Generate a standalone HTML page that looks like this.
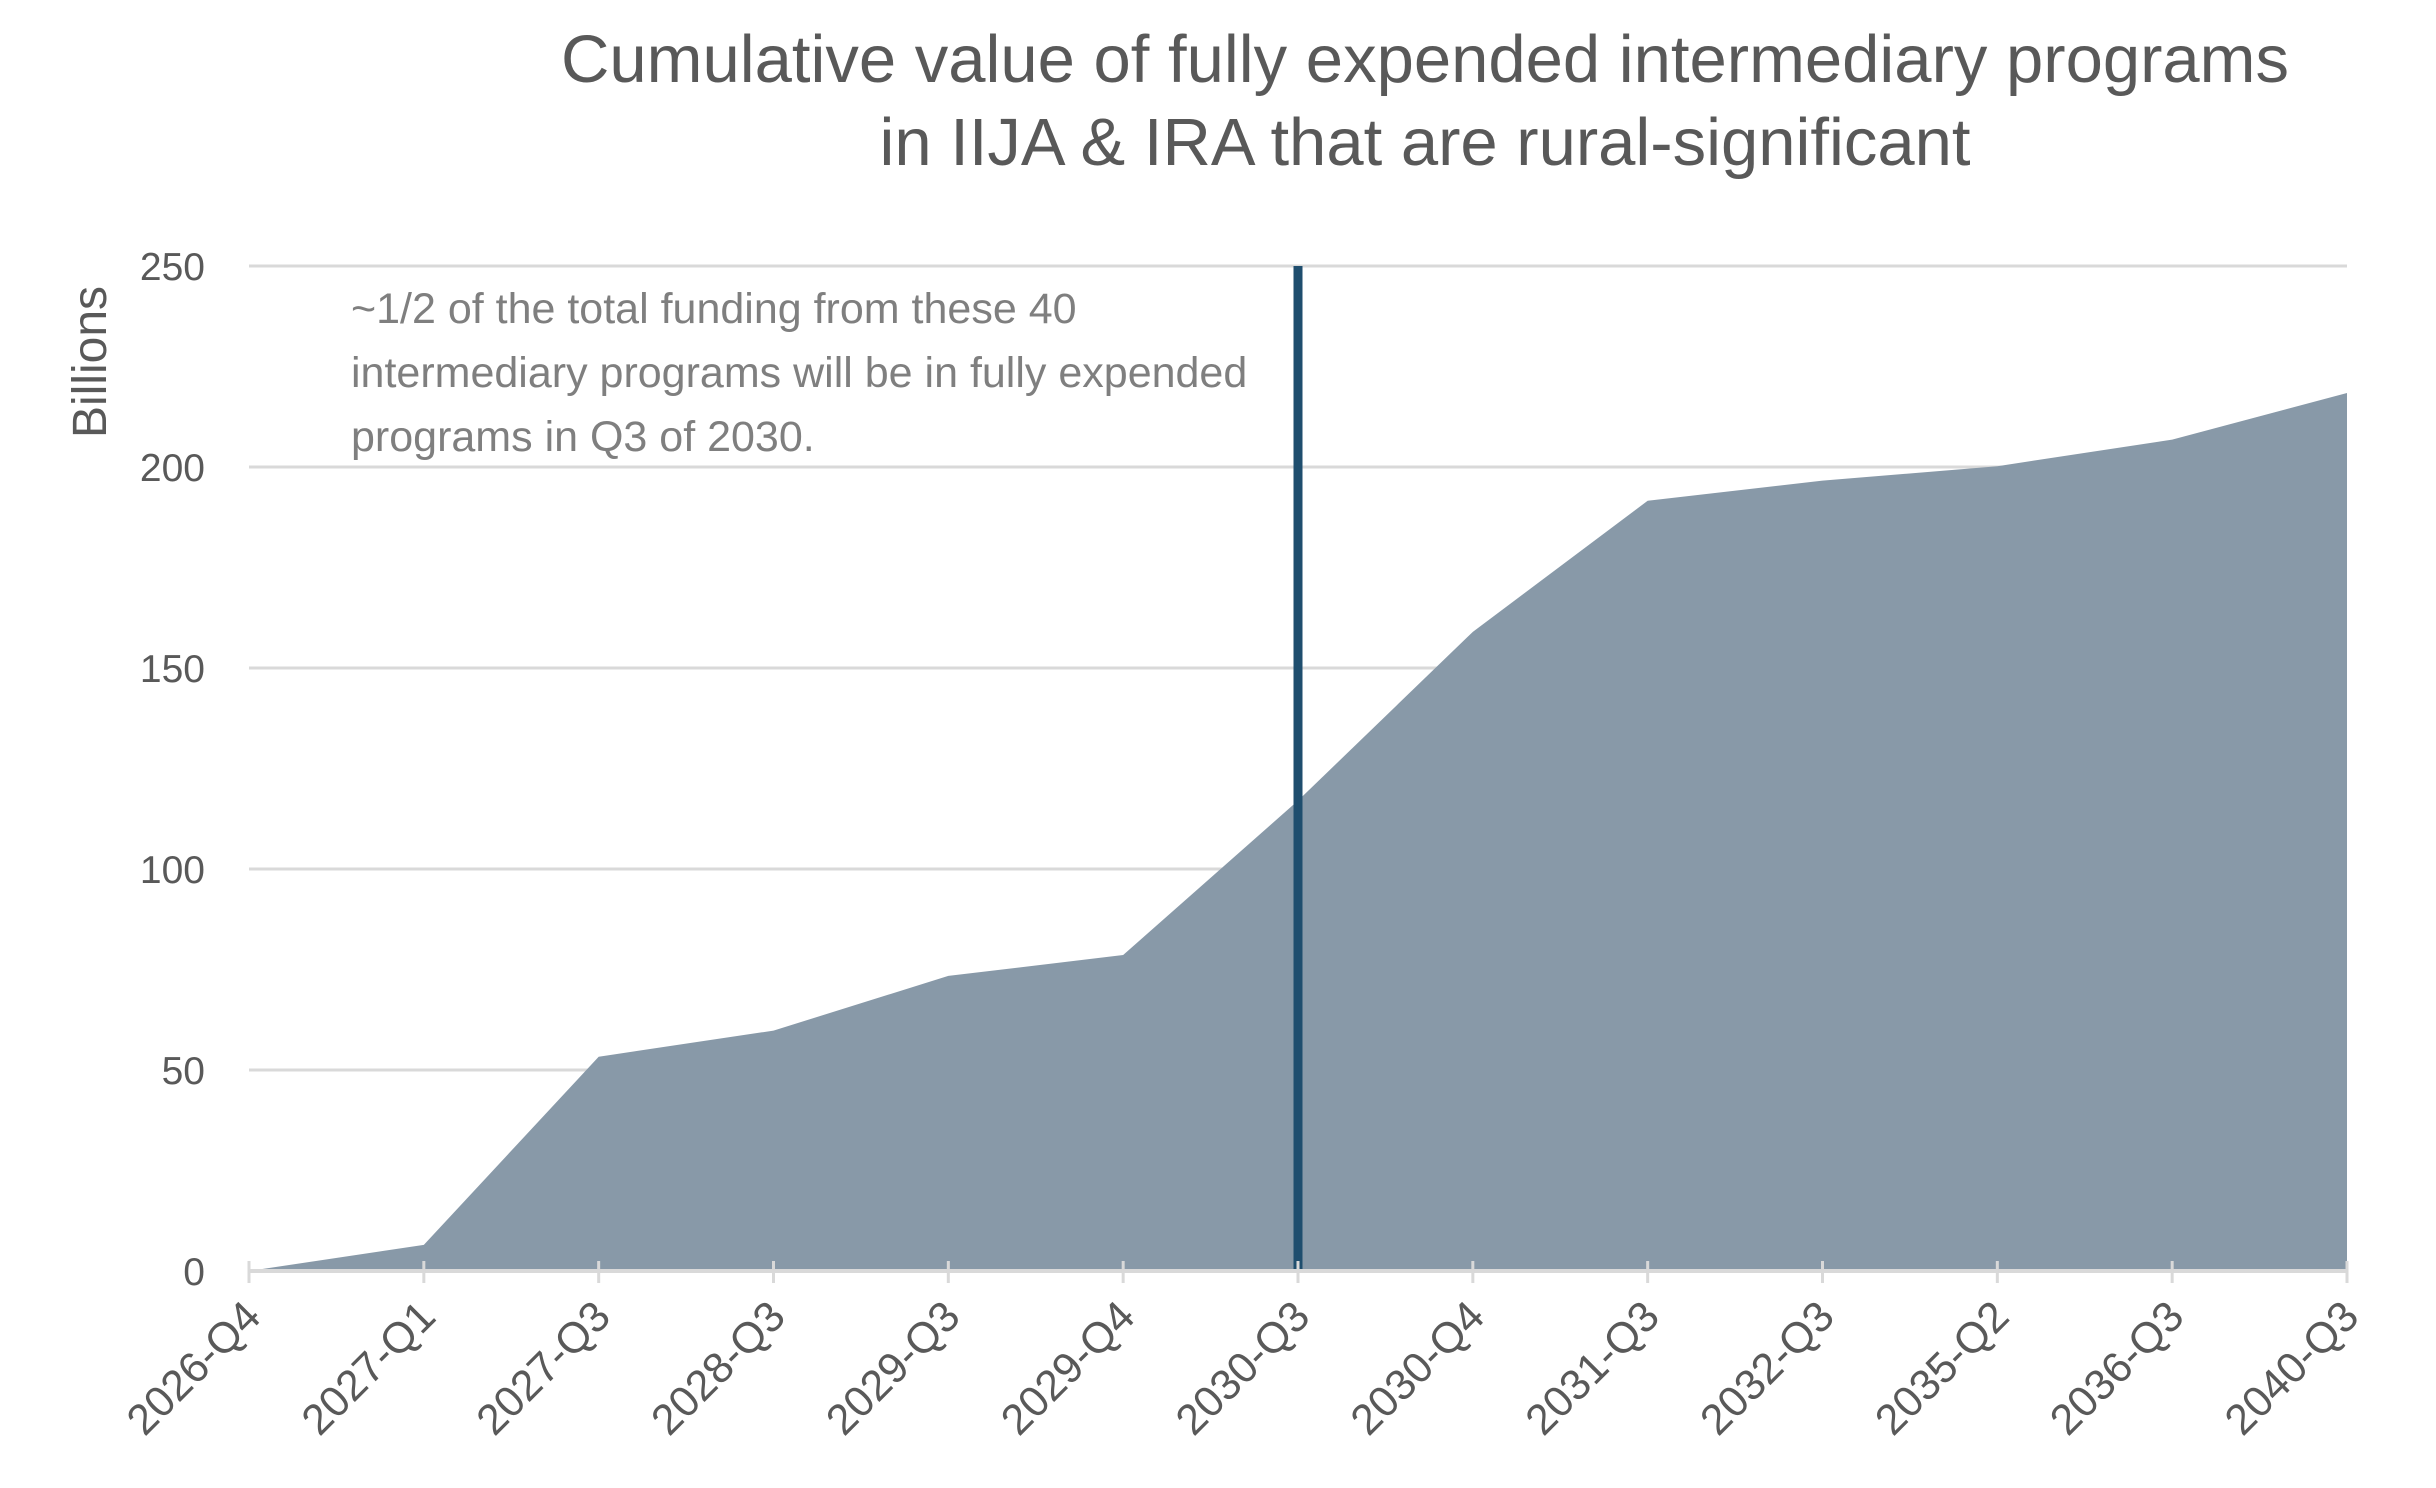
<!DOCTYPE html>
<html><head><meta charset="utf-8"><style>
html,body{margin:0;padding:0;background:#fff;}
svg{display:block;font-family:"Liberation Sans",sans-serif;}
</style></head><body>
<svg id="chart" width="2436" height="1488" viewBox="0 0 2436 1488" xmlns="http://www.w3.org/2000/svg">
<text x="1425" y="82" text-anchor="middle" font-size="67" fill="#595959">Cumulative value of fully expended intermediary programs</text>
<text x="1425" y="165" text-anchor="middle" font-size="67" fill="#595959">in IIJA &amp; IRA that are rural-significant</text>
<g id="grid"></g>
<g id="area"></g>
<g id="xaxis"></g>
<g id="yaxis"></g>
<text transform="translate(106,362) rotate(-90)" text-anchor="middle" font-size="48" fill="#595959">Billions</text>
<g font-size="43" fill="#7f7f7f">
<text x="351" y="323">~1/2 of the total funding from these 40</text>
<text x="351" y="387">intermediary programs will be in fully expended</text>
<text x="351" y="451">programs in Q3 of 2030.</text>
</g>
</svg>
<script>
const categories=["2026-Q4","2027-Q1","2027-Q3","2028-Q3","2029-Q3","2029-Q4","2030-Q3","2030-Q4","2031-Q3","2032-Q3","2035-Q2","2036-Q3","2040-Q3"];
const values=[0,6.5,53.3,59.8,73.4,78.6,117,159,191.6,196.6,200.2,206.8,218.4];
const yTicks=[0,50,100,150,200,250];
const markerCategory="2030-Q3";
const NS="http://www.w3.org/2000/svg";
const L=249,R=2347,T=266,B=1271,yMax=250;
function x(i){return L+(R-L)*i/(categories.length-1);}
function y(v){return B-(B-T)*v/yMax;}
function mk(tag,attrs,parent){const e=document.createElementNS(NS,tag);for(const k in attrs)e.setAttribute(k,attrs[k]);parent.appendChild(e);return e;}
const grid=document.getElementById('grid'),yaxis=document.getElementById('yaxis'),xaxis=document.getElementById('xaxis'),area=document.getElementById('area');
yTicks.forEach(t=>{
  if(t>0){const g=mk('line',{x1:L,x2:R,y1:y(t),y2:y(t),stroke:'#d9d9d9','stroke-width':3},grid);
  
  }
  const lb=mk('text',{x:205,y:y(t)+14,'text-anchor':'end','font-size':39,fill:'#595959'},yaxis);
  lb.textContent=t;
  
  
});
let d='M'+x(0)+','+y(0);
values.forEach((v,i)=>{d+=' L'+x(i)+','+y(v);});
d+=' L'+x(values.length-1)+','+B+' L'+x(0)+','+B+' Z';
const p=mk('path',{d:d,fill:'#8899a8'},area);


const ax=mk('line',{x1:L,x2:R,y1:B,y2:B,stroke:'#d9d9d9','stroke-width':4},xaxis);


categories.forEach((c,i)=>{
  const tk=mk('line',{x1:x(i),x2:x(i),y1:B-10,y2:B+12,stroke:'#d9d9d9','stroke-width':3},xaxis);
  
  
  const lb=mk('text',{transform:'translate('+(x(i)+14)+','+(B+48)+') rotate(-45)','text-anchor':'end','font-size':43,fill:'#595959'},xaxis);
  lb.textContent=c;
  
  
});
const mi=categories.indexOf(markerCategory);
const ml=mk('line',{x1:x(mi),x2:x(mi),y1:T,y2:B,stroke:'#1f4e6e','stroke-width':9},area);


</script>
</body></html>
